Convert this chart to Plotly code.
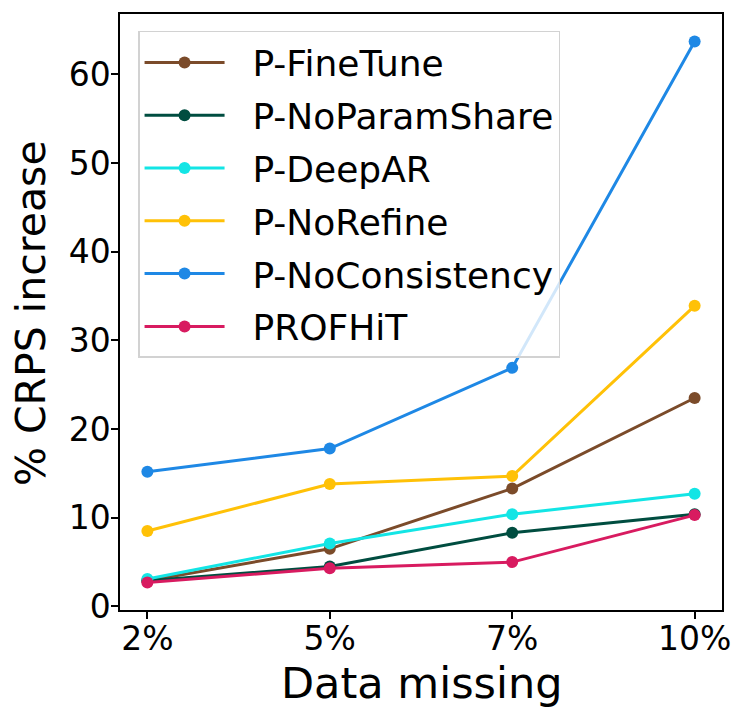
import plotly.graph_objects as go

categories = ["2%", "5%", "7%", "10%"]
series_names = ["P-FineTune", "P-NoParamShare", "P-DeepAR", "P-NoRefine", "P-NoConsistency", "PROFHiT"]
fine_tune = [2.9, 6.5, 13.3, 23.5]
no_param_share = [2.9, 4.5, 8.3, 10.4]
deep_ar = [3.1, 7.1, 10.4, 12.7]
no_refine = [8.5, 13.8, 14.7, 33.9]
no_consistency = [15.2, 17.8, 26.9, 63.7]
profhit = [2.7, 4.3, 5.0, 10.3]
colors = ["#7B4B2A", "#004D40", "#13E5E5", "#FFC107", "#1E88E5", "#D81B60"]
y_ticks = [0, 10, 20, 30, 40, 50, 60]
x_title = "Data missing"
y_title = "% CRPS increase"

values = [fine_tune, no_param_share, deep_ar, no_refine, no_consistency, profhit]
xidx = list(range(len(categories)))

fig = go.Figure()
for name, vals, col in zip(series_names, values, colors):
    fig.add_trace(go.Scatter(
        x=xidx, y=vals, name="\u00a0\u00a0" + name, mode="lines+markers",
        line=dict(color=col, width=3),
        marker=dict(color=col, size=12),
        legendgroup=name,
    ))

font = "DejaVu Sans"
fig.update_layout(
    width=747, height=720,
    margin=dict(l=112, r=33, t=6, b=118),
    paper_bgcolor="white", plot_bgcolor="white",
    font=dict(family=font, color="black"),
    showlegend=True,
    legend=dict(
        x=0.03, y=0.9715, xanchor="left", yanchor="top",
        bgcolor="rgba(255,255,255,0.8)",
        bordercolor="rgb(210,210,210)", borderwidth=1.5,
        font=dict(size=36, family=font),
        tracegroupgap=3,
        itemwidth=80,
    ),
    xaxis=dict(
        range=[-0.15, 3.15],
        tickmode="array", tickvals=xidx, ticktext=categories,
        ticks="outside", ticklen=7, tickwidth=1.5, tickcolor="black",
        showline=True, linecolor="black", linewidth=1.5, mirror=True,
        showgrid=False, zeroline=False, automargin=False,
        tickfont=dict(size=33), ticklabelstandoff=-8,
    ),
    yaxis=dict(
        range=[-0.4, 66.8],
        tickmode="array", tickvals=y_ticks,
        ticks="outside", ticklen=7, tickwidth=1.5, tickcolor="black",
        showline=True, linecolor="black", linewidth=1.5, mirror=True,
        showgrid=False, zeroline=False, automargin=False,
        tickfont=dict(size=33), ticklabelstandoff=-6,
    ),
    annotations=[
        dict(text=x_title, xref="paper", yref="paper", x=0.5, y=-0.122,
             xanchor="center", yanchor="middle", showarrow=False,
             font=dict(size=43, family=font)),
        dict(text=y_title, xref="paper", yref="paper", x=-0.148, y=0.498,
             xanchor="center", yanchor="middle", showarrow=False, textangle=-90,
             font=dict(size=41, family=font)),
    ],
)

fig.write_html("out.html")
